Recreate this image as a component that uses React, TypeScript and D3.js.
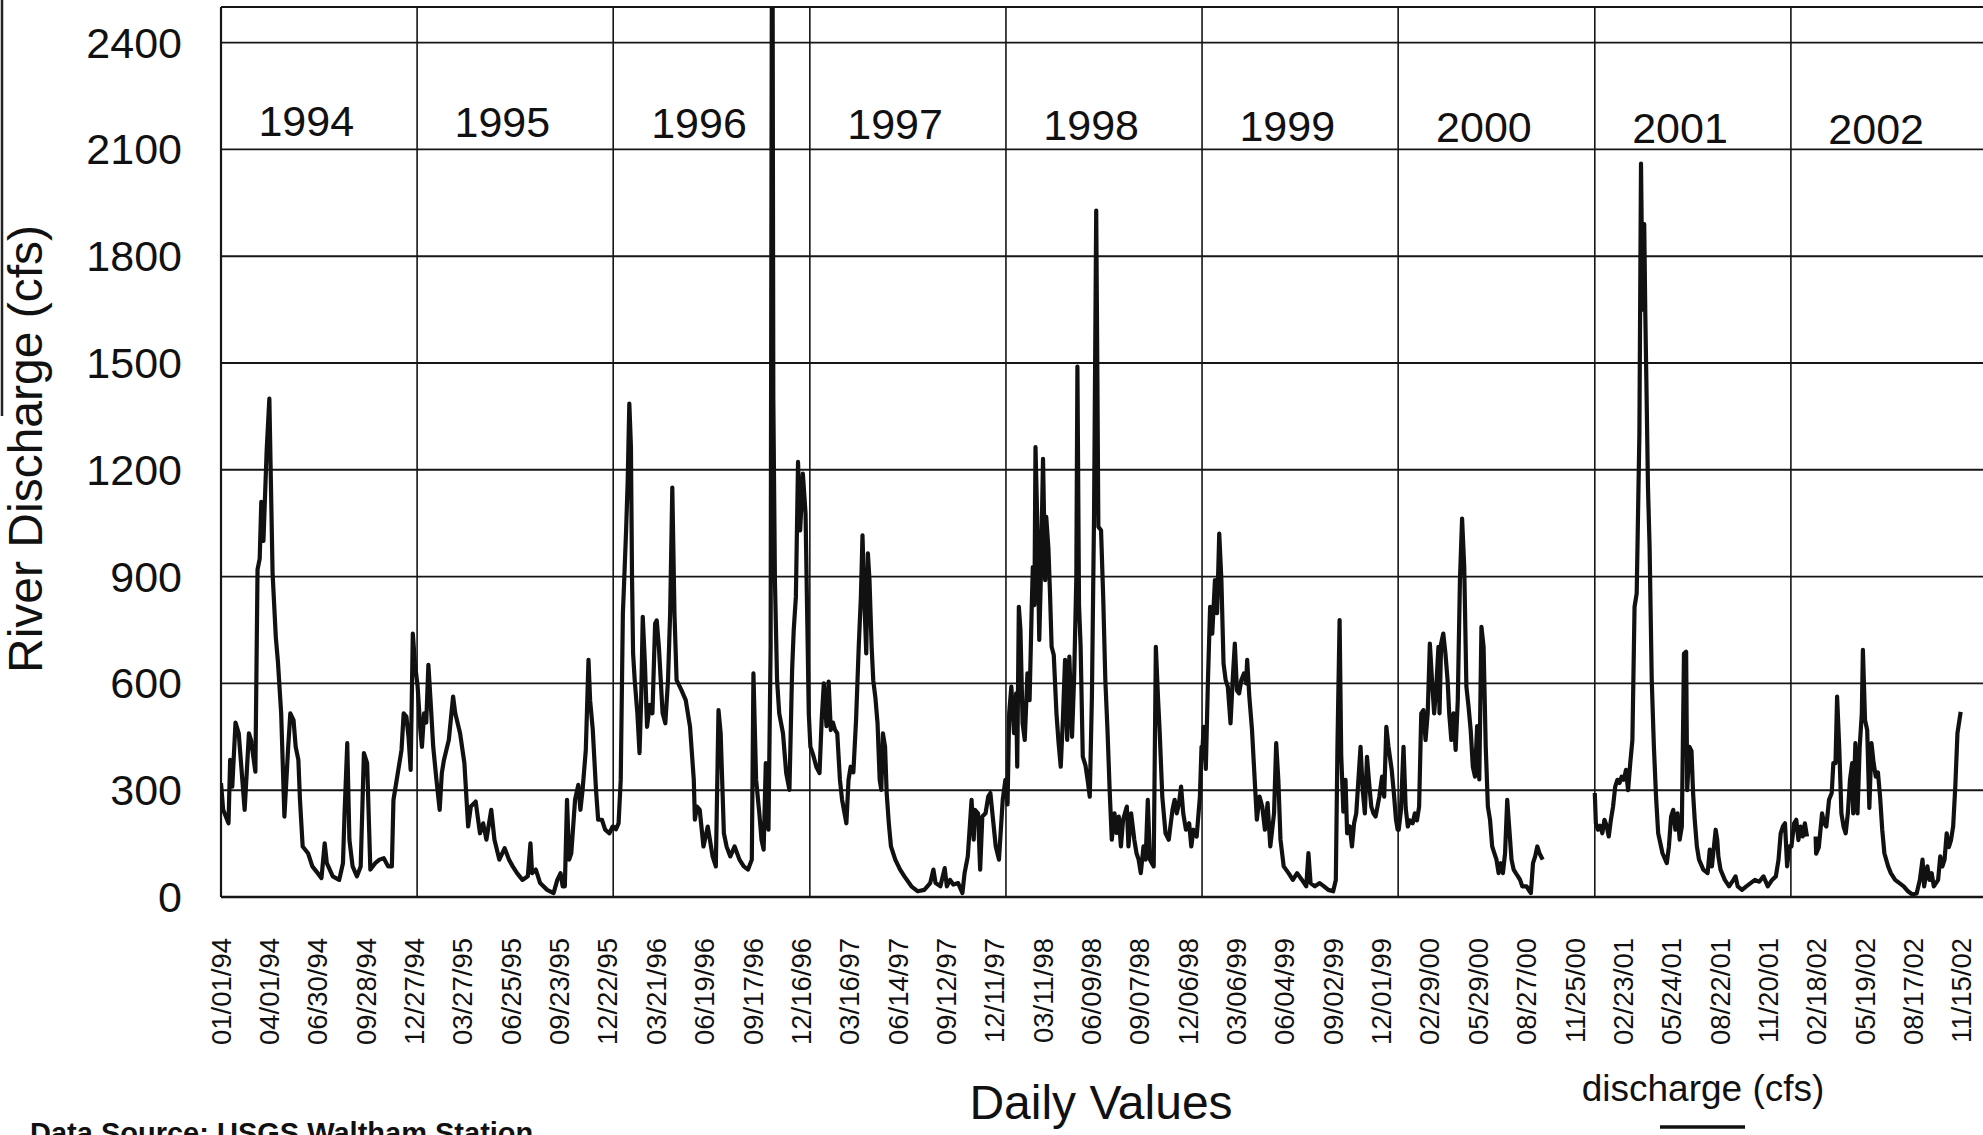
import React, { useEffect, useRef } from 'react';
import * as d3 from 'd3';

const width = 1983;
const height = 1135;
const font = '"Liberation Sans", Arial, Helvetica, sans-serif';

const years = [1994, 1995, 1996, 1997, 1998, 1999, 2000, 2001, 2002];
const yTicks = [0, 300, 600, 900, 1200, 1500, 1800, 2100, 2400];
const dateLabels = [
  '01/01/94', '04/01/94', '06/30/94', '09/28/94', '12/27/94', '03/27/95', '06/25/95',
  '09/23/95', '12/22/95', '03/21/96', '06/19/96', '09/17/96', '12/16/96', '03/16/97',
  '06/14/97', '09/12/97', '12/11/97', '03/11/98', '06/09/98', '09/07/98', '12/06/98',
  '03/06/99', '06/04/99', '09/02/99', '12/01/99', '02/29/00', '05/29/00', '08/27/00',
  '11/25/00', '02/23/01', '05/24/01', '08/22/01', '11/20/01', '02/18/02', '05/19/02',
  '08/17/02', '11/15/02',
];

// discharge: [day of year, cfs]
const q1994 = [
  [0, 320], [4, 245], [14, 207], [17, 385], [21, 310], [27, 490], [33, 460], [44, 245],
  [52, 460], [56, 440], [64, 352], [68, 920], [72, 950], [75, 1110], [79, 1000], [85, 1255],
  [90, 1400], [96, 910], [102, 730], [106, 660], [112, 516], [118, 226], [125, 420], [129, 516],
  [135, 497], [139, 422], [144, 385], [147, 273], [152, 142], [162, 123], [170, 86], [180, 67],
  [187, 53], [193, 151], [197, 95], [208, 58], [220, 48], [227, 95], [230, 235], [235, 432],
  [239, 161], [245, 86], [253, 58], [260, 86], [266, 404], [272, 376], [278, 77], [287, 95],
  [295, 105], [303, 109], [311, 86], [318, 86], [321, 273], [328, 338], [336, 413], [340, 516],
  [345, 507], [349, 451], [353, 357], [357, 740], [361, 656],
];
const q1995 = [
  [1, 591], [6, 470], [9, 422], [13, 516], [17, 490], [21, 652], [25, 553], [30, 422],
  [36, 329], [42, 245], [46, 348], [50, 385], [59, 441], [67, 563], [71, 516], [80, 460],
  [88, 376], [95, 198], [100, 254], [109, 268], [117, 179], [123, 207], [129, 161], [138, 245],
  [144, 161], [153, 105], [163, 137], [171, 105], [178, 86], [186, 67], [196, 48], [206, 58],
  [211, 151], [214, 67], [221, 77], [229, 39], [242, 20], [254, 11], [261, 48], [267, 67],
  [271, 30], [275, 30], [279, 273], [283, 105], [287, 123], [294, 273], [300, 315], [304, 245],
  [308, 301], [314, 413], [319, 666], [322, 553], [327, 469], [333, 301], [337, 217], [344, 217],
  [350, 189], [358, 179], [364, 198],
];
const q1996 = [
  [0, 198], [5, 190], [10, 207], [14, 329], [18, 797], [20, 871], [24, 1030], [27, 1170],
  [30, 1386], [33, 1264], [35, 900], [37, 684], [40, 609], [45, 516], [49, 404], [52, 553],
  [55, 787], [59, 656], [63, 478], [68, 540], [73, 516], [78, 768], [81, 777], [85, 703],
  [92, 516], [97, 488], [102, 609], [106, 797], [110, 1150], [114, 797], [118, 609], [127, 581],
  [135, 553], [143, 478], [150, 329], [152, 217], [156, 254], [161, 245], [168, 142], [176, 198],
  [185, 114], [191, 86], [196, 525], [200, 460], [206, 179], [211, 142], [218, 114], [226, 142],
  [235, 105], [243, 86], [251, 77], [258, 105], [261, 628], [266, 329], [272, 235], [276, 161],
  [280, 133], [284, 376], [289, 189], [293, 703], [296, 3200], [298, 1400], [301, 890], [305, 609],
  [309, 516], [316, 460], [322, 348], [328, 301], [333, 638], [336, 750], [340, 843], [344, 1222],
  [348, 1030], [353, 1189], [358, 1077], [361, 797], [364, 516],
];
const q1997 = [
  [1, 422], [6, 400], [12, 366], [18, 348], [22, 497], [26, 600], [31, 480], [35, 605],
  [39, 469], [43, 490], [47, 469], [51, 460], [56, 329], [60, 273], [68, 207], [72, 329],
  [76, 366], [81, 350], [86, 497], [91, 703], [95, 843], [98, 1016], [101, 853], [105, 684],
  [108, 965], [111, 890], [115, 703], [118, 609], [122, 560], [126, 488], [130, 329], [133, 301],
  [136, 460], [140, 422], [143, 292], [147, 207], [151, 142], [159, 105], [168, 77], [176, 58],
  [189, 30], [201, 16], [213, 20], [224, 39], [230, 77], [234, 39], [243, 30], [251, 81],
  [255, 30], [261, 48], [267, 35], [276, 39], [284, 11], [288, 67], [294, 114], [301, 273],
  [305, 161], [307, 245], [313, 235], [317, 77], [321, 226], [327, 235], [332, 282], [336, 292],
  [341, 217], [346, 142], [352, 105], [359, 273], [364, 329],
];
const q1998 = [
  [1, 329], [3, 260], [6, 516], [10, 591], [15, 460], [19, 572], [21, 366], [24, 815],
  [27, 750], [31, 488], [35, 441], [40, 628], [44, 553], [48, 815], [50, 927], [53, 820],
  [55, 1264], [59, 1012], [62, 722], [65, 900], [69, 1231], [73, 890], [75, 1068], [79, 980],
  [82, 853], [85, 703], [89, 680], [94, 516], [98, 432], [102, 366], [106, 500], [110, 666],
  [114, 441], [118, 675], [123, 450], [127, 620], [131, 900], [133, 1490], [136, 820], [139, 703],
  [143, 394], [148, 370], [152, 329], [156, 282], [160, 563], [164, 1077], [168, 1928], [170, 1500],
  [172, 1040], [177, 1030], [181, 843], [185, 609], [189, 469], [193, 301], [197, 161], [202, 235],
  [206, 180], [210, 226], [214, 142], [218, 217], [225, 254], [228, 142], [233, 235], [239, 160],
  [243, 123], [247, 105], [251, 67], [256, 142], [260, 105], [264, 273], [268, 105], [275, 86],
  [279, 703], [283, 560], [286, 469], [291, 282], [297, 179], [303, 161], [310, 245], [314, 273],
  [318, 235], [322, 263], [326, 310], [330, 235], [335, 189], [341, 207], [345, 142], [349, 189],
  [355, 170], [361, 282], [364, 422],
];
const q1999 = [
  [1, 422], [3, 478], [7, 360], [11, 609], [15, 815], [19, 740], [24, 890], [28, 797],
  [32, 1021], [36, 890], [40, 656], [44, 609], [48, 590], [53, 488], [57, 609], [61, 712],
  [65, 580], [69, 572], [73, 609], [78, 628], [82, 600], [84, 666], [88, 563], [93, 469],
  [98, 329], [102, 217], [107, 282], [112, 254], [117, 189], [122, 264], [127, 142], [134, 235],
  [138, 432], [142, 329], [146, 161], [152, 86], [161, 67], [169, 48], [177, 67], [186, 48],
  [194, 30], [198, 123], [202, 39], [210, 30], [219, 39], [227, 30], [235, 20], [244, 16],
  [249, 48], [252, 422], [256, 778], [259, 400], [263, 240], [267, 329], [270, 179], [275, 198],
  [279, 142], [283, 207], [287, 235], [291, 329], [295, 422], [299, 301], [303, 235], [307, 394],
  [311, 320], [315, 254], [319, 235], [323, 226], [330, 282], [335, 338], [339, 282], [343, 478],
  [347, 422], [353, 357], [357, 292], [361, 217], [364, 189],
];
const q2000 = [
  [1, 189], [5, 240], [10, 422], [14, 250], [18, 198], [22, 215], [27, 207], [31, 235],
  [35, 215], [39, 254], [43, 516], [47, 525], [51, 441], [55, 516], [59, 712], [63, 609],
  [67, 516], [71, 591], [75, 703], [77, 516], [80, 712], [84, 740], [88, 684], [92, 609],
  [95, 516], [99, 441], [103, 516], [107, 413], [111, 553], [115, 890], [119, 1063], [123, 927],
  [127, 591], [131, 535], [135, 469], [139, 366], [143, 338], [147, 480], [151, 330], [155, 759],
  [159, 703], [163, 422], [167, 254], [171, 217], [175, 142], [179, 123], [183, 105], [187, 67],
  [191, 95], [195, 67], [199, 123], [203, 273], [207, 189], [211, 105], [215, 77], [219, 67],
  [223, 58], [227, 48], [231, 30], [239, 30], [243, 20], [247, 11], [251, 95], [255, 114],
  [259, 142], [263, 123], [269, 105],
];
const q2001 = [
  [0, 292], [2, 207], [6, 189], [10, 200], [14, 179], [18, 217], [22, 200], [26, 170],
  [30, 217], [34, 254], [38, 310], [42, 329], [46, 320], [50, 338], [54, 329], [58, 357],
  [62, 300], [66, 376], [70, 441], [74, 815], [78, 853], [83, 1300], [86, 2060], [89, 1650],
  [92, 1890], [94, 1640], [96, 1450], [99, 1150], [102, 983], [106, 609], [110, 422], [114, 282],
  [118, 179], [126, 123], [134, 95], [138, 142], [142, 226], [146, 245], [150, 189], [154, 235],
  [158, 161], [162, 198], [166, 684], [170, 689], [172, 300], [176, 422], [180, 410], [183, 290],
  [186, 217], [190, 142], [194, 105], [202, 77], [210, 67], [214, 133], [218, 86], [225, 189],
  [228, 160], [230, 114], [234, 77], [242, 48], [250, 30], [258, 48], [262, 58], [266, 30],
  [274, 20], [282, 30], [290, 39], [298, 48], [306, 43], [314, 58], [322, 30], [330, 48],
  [337, 58], [342, 105], [346, 179], [350, 198], [354, 207], [358, 86], [362, 142],
];
const q2002a = [
  [1, 142], [6, 207], [10, 217], [14, 160], [18, 198], [22, 170], [26, 207], [30, 170],
];
const q2002b = [
  [46, 170], [47, 122], [52, 140], [58, 235], [62, 207], [66, 198], [71, 273], [76, 292],
  [79, 376], [83, 376], [86, 563], [90, 420], [94, 235], [98, 198], [102, 179], [106, 235],
  [110, 329], [114, 376], [116, 235], [120, 432], [124, 235], [128, 420], [132, 516], [134, 694],
  [138, 497], [142, 469], [146, 250], [150, 432], [154, 376], [158, 338], [162, 350], [166, 282],
  [170, 189], [174, 123], [181, 86], [186, 67], [194, 48], [202, 39], [210, 30], [218, 16],
  [226, 7], [234, 10], [240, 48], [245, 105], [248, 30], [254, 86], [258, 48], [262, 67],
  [266, 30], [270, 39], [274, 48], [278, 114], [282, 86], [286, 105], [290, 179], [294, 140],
  [298, 160], [302, 198], [306, 310], [310, 460], [316, 520],
];

const x = d3
  .scaleUtc()
  .domain([new Date(Date.UTC(1994, 0, 1)), new Date(Date.UTC(2003, 0, 1))])
  .range([221, 1987]);

const y = d3.scaleLinear().domain([0, 2500]).range([897, 7]);

const toPoints = (year: number, rows: number[][]) =>
  rows.map(([doy, v]) => ({ date: new Date(Date.UTC(year, 0, 1 + doy)), v }));

const segments = [
  [
    ...toPoints(1994, q1994),
    ...toPoints(1995, q1995),
    ...toPoints(1996, q1996),
    ...toPoints(1997, q1997),
    ...toPoints(1998, q1998),
    ...toPoints(1999, q1999),
    ...toPoints(2000, q2000),
  ],
  [...toPoints(2001, q2001), ...toPoints(2002, q2002a)],
  toPoints(2002, q2002b),
];

const parseLabel = d3.utcParse('%m/%d/%y');

const App = () => {
  const ref = useRef<SVGSVGElement>(null);

  useEffect(() => {
    const svg = d3.select(ref.current);
    svg.selectAll('*').remove();

    svg.append('rect').attr('width', width).attr('height', height).attr('fill', '#fff');

    svg
      .append('defs')
      .append('clipPath')
      .attr('id', 'plot-clip')
      .append('rect')
      .attr('x', x.range()[0])
      .attr('y', y(2500))
      .attr('width', width - x.range()[0])
      .attr('height', y(0) - y(2500));

    const grid = svg.append('g').attr('stroke', '#161616');

    // horizontal grid, incl. the top frame at 2500
    grid
      .selectAll('line.h')
      .data([...yTicks, 2500])
      .enter()
      .append('line')
      .attr('x1', x.range()[0])
      .attr('x2', width)
      .attr('y1', d => y(d))
      .attr('y2', d => y(d))
      .attr('stroke-width', d => (d === 0 ? 2.6 : 1.9));

    // year dividers
    grid
      .selectAll('line.v')
      .data(years)
      .enter()
      .append('line')
      .attr('x1', d => x(new Date(Date.UTC(d, 0, 1))))
      .attr('x2', d => x(new Date(Date.UTC(d, 0, 1))))
      .attr('y1', y(2500))
      .attr('y2', y(0))
      .attr('stroke-width', d => (d === 1994 ? 2.2 : 1.6));

    const line = d3
      .line<{ date: Date; v: number }>()
      .x(d => x(d.date))
      .y(d => y(d.v));

    svg
      .append('g')
      .attr('clip-path', 'url(#plot-clip)')
      .selectAll('path')
      .data(segments)
      .enter()
      .append('path')
      .attr('d', d => line(d))
      .attr('fill', 'none')
      .attr('stroke', '#111')
      .attr('stroke-width', 4.2)
      .attr('stroke-linejoin', 'round');

    const text = svg.append('g').attr('font-family', font).attr('fill', '#111');

    text
      .selectAll('text.ytick')
      .data(yTicks)
      .enter()
      .append('text')
      .attr('x', 182)
      .attr('y', d => y(d) + 15)
      .attr('text-anchor', 'end')
      .attr('font-size', 43)
      .text(d => d);

    text
      .selectAll('text.xtick')
      .data(dateLabels)
      .enter()
      .append('text')
      .attr('transform', d => `translate(${x(parseLabel(d) as Date)},938) rotate(-90)`)
      .attr('dy', '0.35em')
      .attr('text-anchor', 'end')
      .attr('font-size', 27.5)
      .text(d => d);

    text
      .selectAll('text.year')
      .data(years)
      .enter()
      .append('text')
      .attr('x', d => x(new Date(Date.UTC(d, 6, 1))) - 12)
      .attr('y', (d, i) => 136 + i)
      .attr('text-anchor', 'middle')
      .attr('font-size', 43)
      .text(d => d);

    text
      .append('text')
      .attr('transform', 'translate(42,449) rotate(-90)')
      .attr('text-anchor', 'middle')
      .attr('font-size', 48)
      .text('River Discharge (cfs)');

    text
      .append('text')
      .attr('x', 1101)
      .attr('y', 1119)
      .attr('text-anchor', 'middle')
      .attr('font-size', 48)
      .text('Daily Values');

    text
      .append('text')
      .attr('x', 1703)
      .attr('y', 1101)
      .attr('text-anchor', 'middle')
      .attr('font-size', 37)
      .text('discharge (cfs)');

    svg
      .append('line')
      .attr('x1', 1660)
      .attr('x2', 1745)
      .attr('y1', 1127)
      .attr('y2', 1127)
      .attr('stroke', '#111')
      .attr('stroke-width', 3.5);

    text
      .append('text')
      .attr('x', 30)
      .attr('y', 1143)
      .attr('font-size', 29)
      .attr('font-weight', 'bold')
      .text('Data Source: USGS Waltham Station');

    // dark scan edge on the far left
    svg
      .append('line')
      .attr('x1', 2)
      .attr('x2', 2)
      .attr('y1', 0)
      .attr('y2', 416)
      .attr('stroke', '#222')
      .attr('stroke-width', 2.5);
  });

  return (
    <svg
      ref={ref}
      width={width}
      height={height}
      style={{ position: 'absolute', left: 0, top: 0, display: 'block' }}
    />
  );
};

export default App;
